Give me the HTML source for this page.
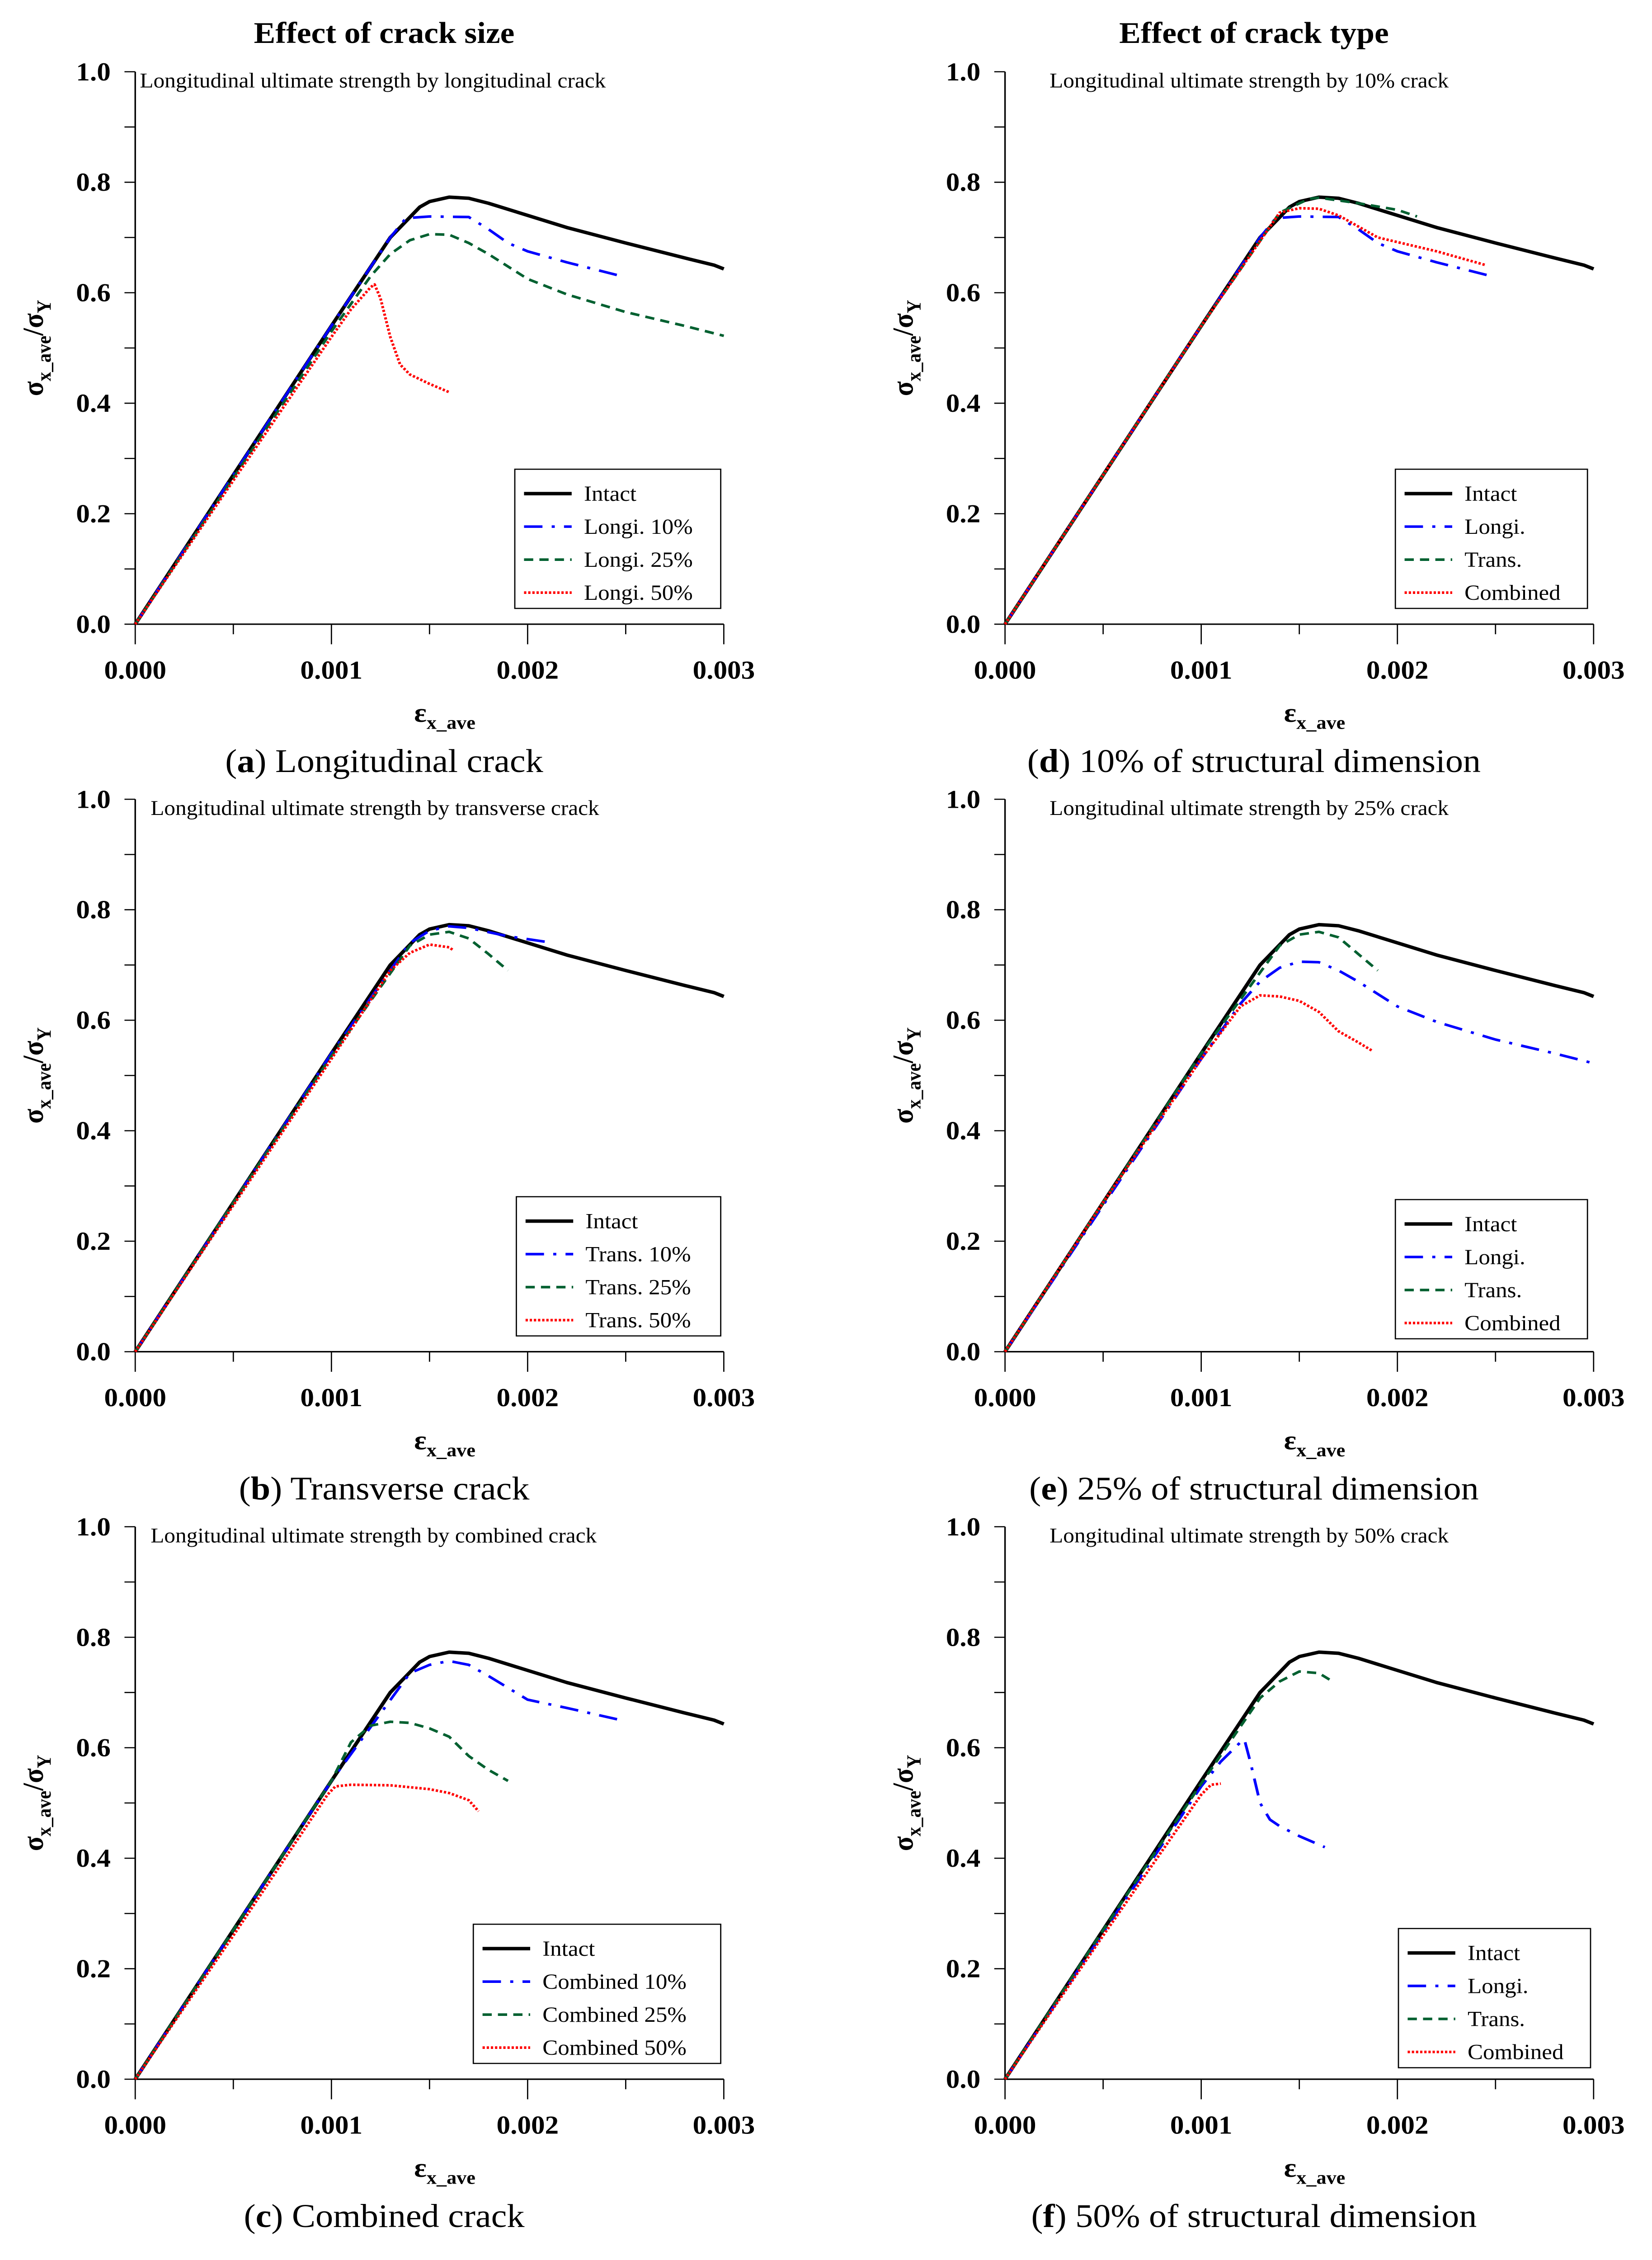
<!DOCTYPE html>
<html><head><meta charset="utf-8"><style>
html,body{margin:0;padding:0;background:#fff;overflow:hidden;width:100vw;height:100vh}
svg{display:block;width:100vw;height:100vh}
text{font-family:"Liberation Serif",serif;fill:#000}
</style></head><body>
<svg id="fig" xmlns="http://www.w3.org/2000/svg" viewBox="0 0 1075 1575" preserveAspectRatio="none">
<text x="250" y="30" font-size="21" font-weight="bold" text-anchor="middle">Effect of crack size</text>
<text x="816" y="30" font-size="21" font-weight="bold" text-anchor="middle">Effect of crack type</text>
</svg>
<script>
// x = strain, y = normalized stress
const intactX = [0,0.0005,0.001,0.0013,0.00145,0.0015,0.0016,0.0017,0.0018,0.002,0.0022,0.0025,0.0028,0.00295,0.003];
const intactY = [0,0.27,0.54,0.70,0.755,0.765,0.773,0.771,0.762,0.74,0.718,0.69,0.663,0.65,0.643];
const longi10X = [0,0.0005,0.001,0.0013,0.00138,0.0015,0.0017,0.0018,0.0019,0.002,0.0022,0.0025];
const longi10Y = [0,0.27,0.54,0.70,0.735,0.738,0.737,0.715,0.69,0.675,0.655,0.628];
const longi25X = [0,0.0005,0.001,0.0012,0.0013,0.0014,0.0015,0.0016,0.0017,0.0018,0.002,0.0022,0.0025,0.0028,0.003];
const longi25Y = [0,0.265,0.53,0.63,0.67,0.695,0.706,0.705,0.69,0.67,0.625,0.597,0.565,0.54,0.522];
const longi50X = [0,0.0005,0.001,0.0011,0.0012,0.00122,0.00125,0.0013,0.00135,0.0014,0.0015,0.0016];
const longi50Y = [0,0.26,0.52,0.57,0.61,0.615,0.59,0.52,0.47,0.452,0.435,0.42];
const trans10X = [0,0.0005,0.001,0.0014,0.0015,0.0016,0.0017,0.0019,0.00213];
const trans10Y = [0,0.27,0.54,0.74,0.762,0.77,0.767,0.752,0.74];
const trans25X = [0,0.0005,0.001,0.0014,0.0015,0.0016,0.0017,0.0018,0.0019];
const trans25Y = [0,0.27,0.535,0.735,0.755,0.76,0.748,0.72,0.69];
const trans50X = [0,0.0005,0.001,0.0013,0.0014,0.0015,0.0016,0.00162];
const trans50Y = [0,0.265,0.53,0.69,0.722,0.737,0.732,0.727];
const comb10X = [0,0.0005,0.001,0.0014,0.0015,0.0016,0.0017,0.0018,0.002,0.0022,0.0025];
const comb10Y = [0,0.27,0.54,0.735,0.75,0.757,0.75,0.73,0.687,0.672,0.648];
const comb25X = [0,0.0005,0.001,0.0011,0.0012,0.0013,0.0014,0.0015,0.0016,0.0017,0.0018,0.0019];
const comb25Y = [0,0.27,0.54,0.61,0.64,0.647,0.645,0.635,0.62,0.585,0.56,0.54];
const comb50X = [0,0.0005,0.00098,0.00102,0.0011,0.0013,0.0015,0.0016,0.0017,0.00175];
const comb50Y = [0,0.26,0.515,0.53,0.533,0.532,0.525,0.518,0.505,0.485];
const dTransX = [0,0.0005,0.001,0.0014,0.00155,0.0016,0.0018,0.002,0.0021];
const dTransY = [0,0.27,0.54,0.745,0.77,0.772,0.762,0.75,0.738];
const dCombX = [0,0.0005,0.001,0.0014,0.0015,0.0016,0.0017,0.0018,0.0019,0.0022,0.00245];
const dCombY = [0,0.27,0.54,0.745,0.753,0.752,0.74,0.72,0.7,0.675,0.65];
const eTransX = [0,0.0005,0.001,0.0014,0.0015,0.0016,0.0017,0.0018,0.0019];
const eTransY = [0,0.27,0.54,0.735,0.755,0.76,0.75,0.72,0.69];
const eCombX = [0,0.0005,0.001,0.0012,0.0013,0.0014,0.0015,0.0016,0.0017,0.0018,0.00187];
const eCombY = [0,0.27,0.53,0.625,0.645,0.643,0.635,0.615,0.58,0.56,0.545];
const fLongiX = [0,0.0005,0.001,0.0011,0.0012,0.00122,0.00125,0.0013,0.00135,0.0014,0.0015,0.00163];
const fLongiY = [0,0.265,0.53,0.575,0.61,0.615,0.575,0.5,0.47,0.458,0.44,0.42];
const fTransX = [0,0.0005,0.001,0.0013,0.0014,0.0015,0.0016,0.00166];
const fTransY = [0,0.27,0.535,0.69,0.72,0.738,0.735,0.722];
const fCombX = [0,0.0005,0.001,0.00105,0.0011];
const fCombY = [0,0.26,0.515,0.533,0.535];
const xTicks = ["0.000","0.001","0.002","0.003"];
const yTicks = ["0.0","0.2","0.4","0.6","0.8","1.0"];

const NS = "http://www.w3.org/2000/svg";
const svg = document.getElementById('fig');
const STY = {
  intact:{c:"#000",w:2.4,d:""},
  blue:{c:"#0000ff",w:1.8,d:"12,6,2,6"},
  green:{c:"#006030",w:1.8,d:"6,4"},
  red:{c:"#ff0000",w:1.8,d:"1.5,1.2"}
};
function mk(tag, attrs, parent){const e=document.createElementNS(NS,tag);for(const k in attrs)e.setAttribute(k,attrs[k]);(parent||svg).appendChild(e);return e;}

const panels = [
 {x0:88,y0:435,title:"Longitudinal ultimate strength by longitudinal crack",tx:91,cap:["a"," Longitudinal crack"],capx:250,
  series:[["intact","Intact",intactX,intactY],["blue","Longi. 10%",longi10X,longi10Y],["green","Longi. 25%",longi25X,longi25Y],["red","Longi. 50%",longi50X,longi50Y]],lg:[335,327,134]},
 {x0:88,y0:942,title:"Longitudinal ultimate strength by transverse crack",tx:98,cap:["b"," Transverse crack"],capx:250,
  series:[["intact","Intact",intactX,intactY],["blue","Trans. 10%",trans10X,trans10Y],["green","Trans. 25%",trans25X,trans25Y],["red","Trans. 50%",trans50X,trans50Y]],lg:[336,834,133]},
 {x0:88,y0:1449,title:"Longitudinal ultimate strength by combined crack",tx:98,cap:["c"," Combined crack"],capx:250,
  series:[["intact","Intact",intactX,intactY],["blue","Combined 10%",comb10X,comb10Y],["green","Combined 25%",comb25X,comb25Y],["red","Combined 50%",comb50X,comb50Y]],lg:[308,1341,161]},
 {x0:654,y0:435,title:"Longitudinal ultimate strength by 10% crack",tx:683,cap:["d"," 10% of structural dimension"],capx:816,
  series:[["intact","Intact",intactX,intactY],["blue","Longi.",longi10X,longi10Y],["green","Trans.",dTransX,dTransY],["red","Combined",dCombX,dCombY]],lg:[908,327,125]},
 {x0:654,y0:942,title:"Longitudinal ultimate strength by 25% crack",tx:683,cap:["e"," 25% of structural dimension"],capx:816,
  series:[["intact","Intact",intactX,intactY],["blue","Longi.",longi25X,longi25Y],["green","Trans.",eTransX,eTransY],["red","Combined",eCombX,eCombY]],lg:[908,836,125]},
 {x0:654,y0:1449,title:"Longitudinal ultimate strength by 50% crack",tx:683,cap:["f"," 50% of structural dimension"],capx:816,
  series:[["intact","Intact",intactX,intactY],["blue","Longi.",fLongiX,fLongiY],["green","Trans.",fTransX,fTransY],["red","Combined",fCombX,fCombY]],lg:[910,1344,125]}
];
const W=383,H=385;
panels.forEach((p,pi)=>{
  const g=mk('g',{});
  
  
  const sx=v=>p.x0+v/0.003*W, sy=v=>p.y0-v*H;
  const ax=mk('path',{d:`M${p.x0},${p.y0-H} V${p.y0} H${p.x0+W}`,stroke:"#000","stroke-width":1,fill:"none"},g);
   
  for(let i=0;i<=10;i++){const y=sy(i*0.1);mk('line',{x1:p.x0-7,x2:p.x0,y1:y,y2:y,stroke:"#000","stroke-width":0.8},g);}
  yTicks.forEach((t,i)=>{const e=mk('text',{x:p.x0-16,y:sy(i*0.2)+6,"font-size":18,"font-weight":"bold","text-anchor":"end"},g);e.textContent=t;
     });
  for(let i=0;i<=6;i++){const x=sx(i*0.0005);mk('line',{x1:x,x2:x,y1:p.y0,y2:p.y0+(i%2?7:14),stroke:"#000","stroke-width":0.8},g);}
  xTicks.forEach((t,i)=>{const e=mk('text',{x:sx(i*0.001),y:p.y0+38,"font-size":18,"font-weight":"bold","text-anchor":"middle"},g);e.textContent=t;
     });
  const xl=mk('text',{x:p.x0+W/2-10,y:p.y0+68,"font-size":19,"font-weight":"bold"},g);
  xl.innerHTML='ε<tspan font-size="13" dy="5">x_ave</tspan>';
   
  const yl=mk('text',{x:0,y:0,"font-size":19,"font-weight":"bold","text-anchor":"middle",transform:`translate(${p.x0-60},${p.y0-H/2}) rotate(-90)`},g);
  yl.innerHTML='σ<tspan font-size="13" dy="5">x_ave</tspan><tspan dy="-5">/σ</tspan><tspan font-size="13" dy="5">Y</tspan>';
   
  const tt=mk('text',{x:p.tx,y:p.y0-H+11,"font-size":14.5},g); tt.textContent=p.title;
   
  const cp=mk('text',{x:p.capx,y:p.y0+103,"font-size":23,"text-anchor":"middle"},g);
  cp.innerHTML='(<tspan font-weight="bold">'+p.cap[0]+'</tspan>)'+p.cap[1];
   
  p.series.forEach(s=>{const st=STY[s[0]];
    const d=s[2].map((v,i)=>(i?'L':'M')+sx(v).toFixed(2)+','+sy(s[3][i]).toFixed(2)).join(' ');
    const l=mk('path',{d:d,fill:"none",stroke:st.c,"stroke-width":st.w,"stroke-dasharray":st.d,"stroke-linejoin":"round"},g);
    
    
  });
  const [lx,ly,lw]=p.lg;
  const lgg=mk('g',{},g);
   
  mk('rect',{x:lx,y:ly,width:lw,height:97,fill:"#fff",stroke:"#000","stroke-width":0.8},lgg);
  p.series.forEach((s,i)=>{const st=STY[s[0]];const y=ly+17+i*23;
    mk('line',{x1:lx+6,x2:lx+37,y1:y,y2:y,stroke:st.c,"stroke-width":st.w,"stroke-dasharray":st.d},lgg);
    const t=mk('text',{x:lx+45,y:y+5,"font-size":15},lgg);t.textContent=s[1];
     
  });
});
</script>
</body></html>
